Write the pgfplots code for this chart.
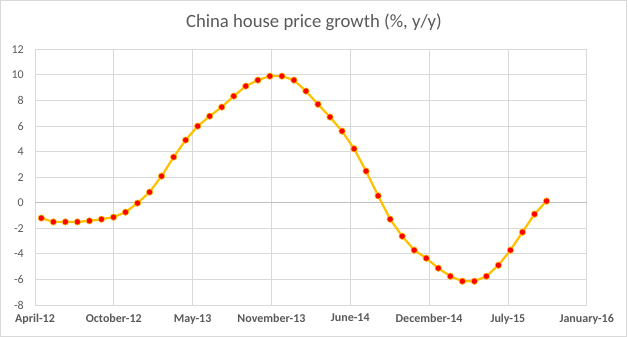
\documentclass[border=0pt]{standalone}
\usepackage{pgfplots}
\pgfplotsset{compat=1.18}
\usepackage{fontspec}
\setmainfont{Carlito}
\definecolor{gridgray}{HTML}{D9D9D9}
\definecolor{zerogray}{HTML}{BFBFBF}
\definecolor{txtgray}{HTML}{595959}
\definecolor{gold}{HTML}{FFC000}
\pgfplotstableread{
m v
0 -1.2
1 -1.5
2 -1.5
3 -1.5
4 -1.42
5 -1.29
6 -1.13
7 -0.74
8 -0.03
9 0.83
10 2.08
11 3.57
12 4.9
13 5.99
14 6.77
15 7.48
16 8.34
17 9.12
18 9.59
19 9.9
20 9.9
21 9.59
22 8.73
23 7.7
24 6.7
25 5.6
26 4.22
27 2.47
28 0.54
29 -1.29
30 -2.62
31 -3.71
32 -4.34
33 -5.12
34 -5.75
35 -6.14
36 -6.14
37 -5.75
38 -4.89
39 -3.71
40 -2.3
41 -0.89
42 0.13
}\datatable
\begin{document}
\begin{tikzpicture}
\useasboundingbox (0bp,0bp) rectangle (628bp,337bp);
\draw[gridgray] (0.5bp,0.5bp) rectangle (626.5bp,336.5bp);
\node[txtgray, font=\fontsize{18.7bp}{22bp}\selectfont] at (314bp,315bp) {China house price growth (\%, y/y)};
\begin{axis}[at={(35bp,32bp)}, anchor=south west, scale only axis,
  width=551.7bp, height=255.7bp,
  xmin=-0.524, xmax=45.34, ymin=-8, ymax=12,
  ytick={-8,-6,...,12},
  xtick={-0.524,6.028,12.58,19.132,25.684,32.236,38.788,45.34},
  xticklabels={April-12,October-12,May-13,November-13,June-14,December-14,July-15,January-16},
  grid=major, major grid style={draw=gridgray, line width=0.75bp},
  axis line style={draw=gridgray, line width=0.75bp},
  tick style={draw=none},
  /pgf/number format/assume math mode=true,
  tick label style={font=\fontsize{12bp}{14bp}\selectfont, text=txtgray},
  xticklabel style={font=\fontsize{12bp}{14bp}\selectfont\bfseries, inner sep=0pt, yshift=-9bp},
  yticklabel style={inner sep=0pt, xshift=-11bp},
  extra y ticks={0}, extra y tick labels={},
  extra y tick style={major grid style={draw=zerogray, line width=0.9bp}},
  clip=false,
]
\addplot[gold, line width=2.2bp, mark=*, mark size=3.2bp,
  mark options={fill=red, draw=gold, line width=0.6bp}] table[x=m, y=v] {\datatable};
\end{axis}
\end{tikzpicture}
\end{document}
